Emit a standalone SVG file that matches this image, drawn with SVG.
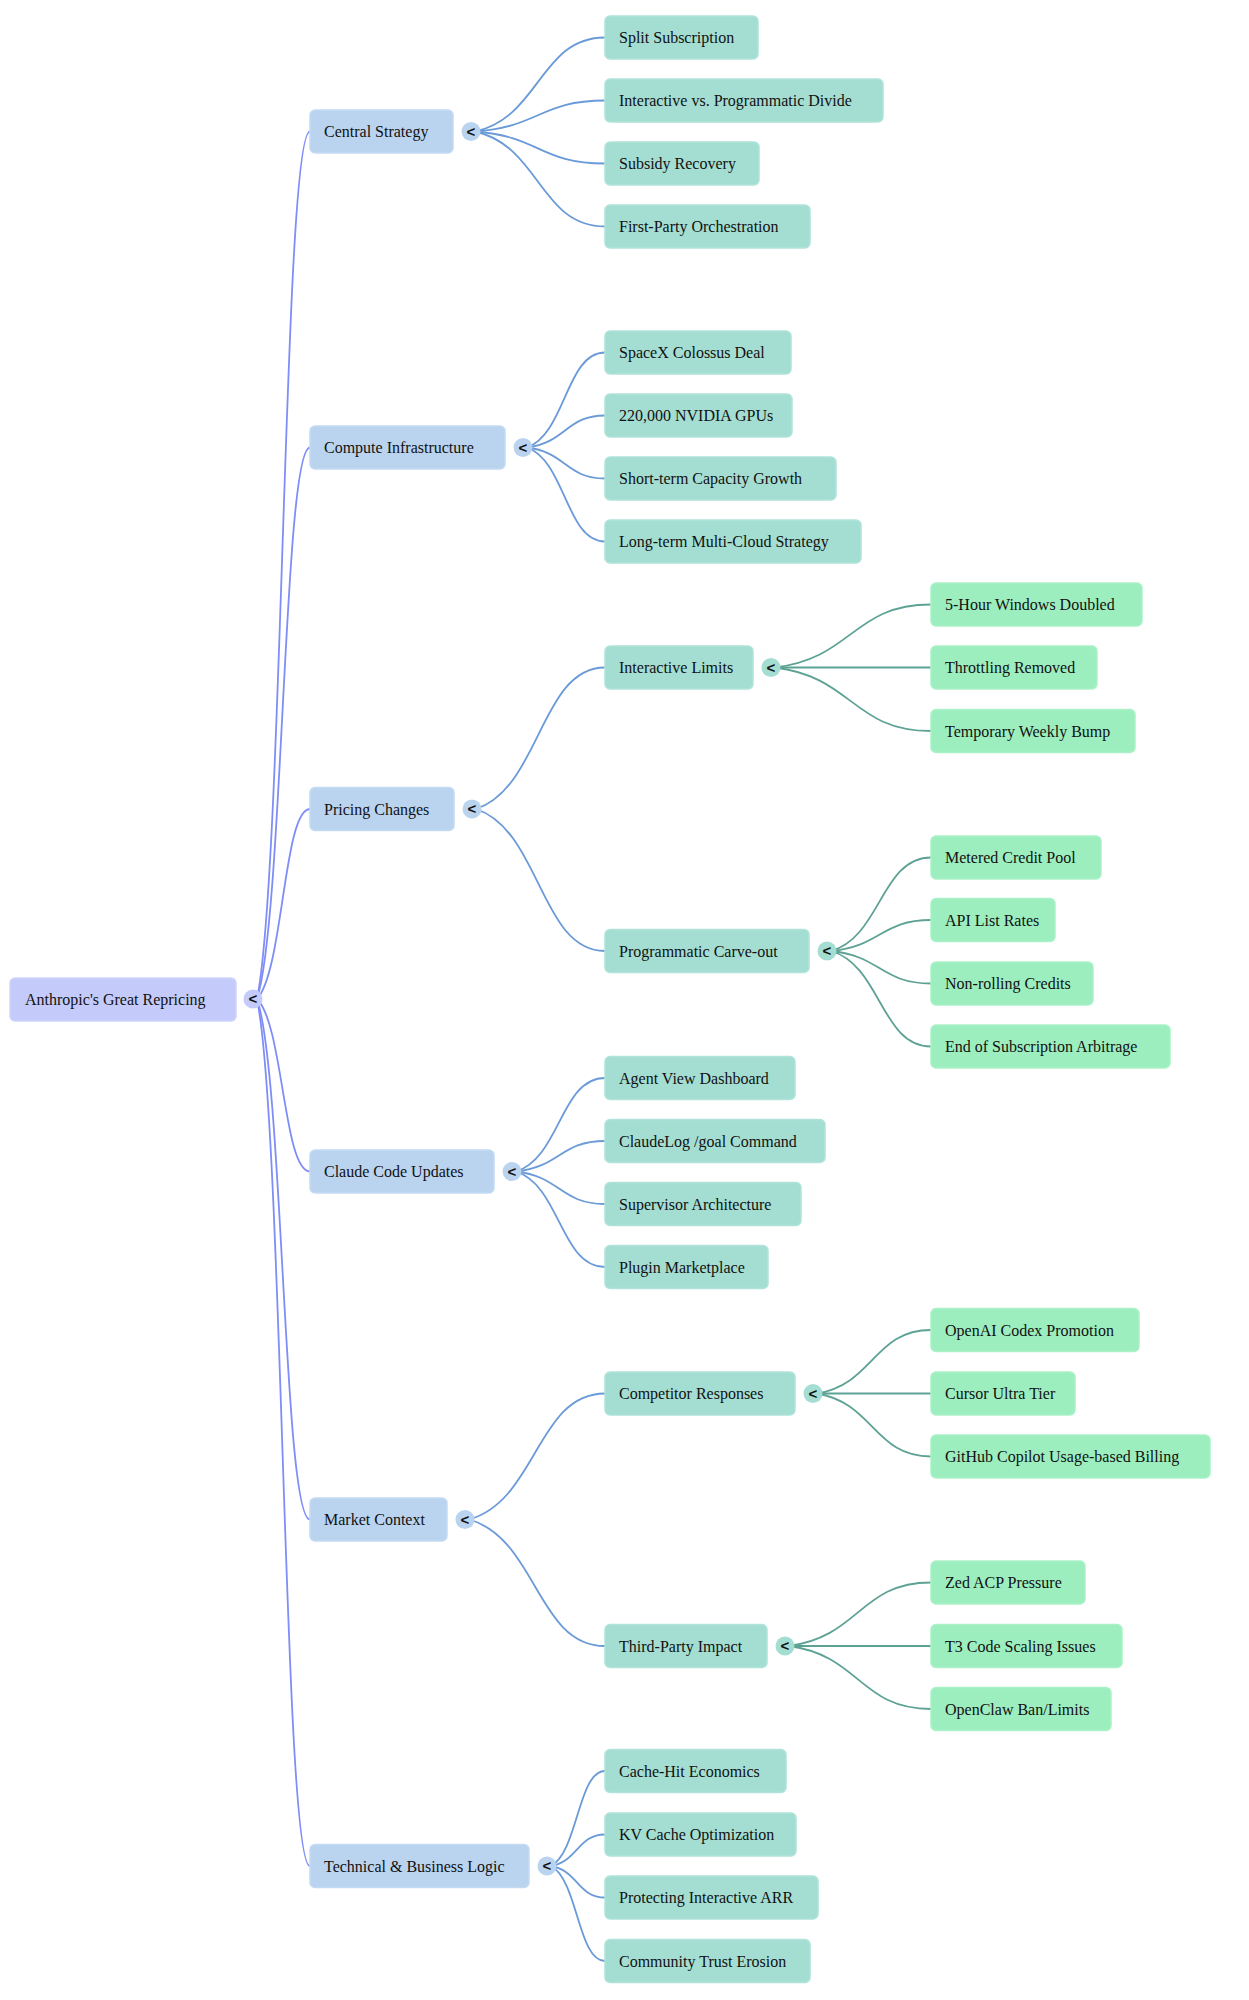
<svg xmlns="http://www.w3.org/2000/svg" width="1249" height="2000" viewBox="0 0 1249 2000">
<style>
text{font-family:"Liberation Serif","Times New Roman",serif;font-size:16px;fill:#111}
.n0{fill:#c4cbfb;stroke:#cdd3fc;stroke-width:1.5}
.n1{fill:#bad4f0;stroke:#c4daf3;stroke-width:1.5}
.n2{fill:#a4ded2;stroke:#b0e3d9;stroke-width:1.5}
.n3{fill:#9deebf;stroke:#aaf1c8;stroke-width:1.5}
.c0{fill:#c4cbfb}.c1{fill:#bad4f0}.c2{fill:#a4ded2}
.ind{font-family:"Liberation Sans",Arial,sans-serif;font-size:15px;font-weight:bold;text-anchor:middle}
.e0{fill:none;stroke:#7f8ef7;stroke-width:1.8}
.e1{fill:none;stroke:#6a9bd8;stroke-width:1.8}
.e2{fill:none;stroke:#5ea295;stroke-width:1.8}
</style>
<g id="connectors">
<path class="e0" d="M257,999 C283.5,868.9 283.5,131.5 310,131.5"/>
<path class="e0" d="M257,999 C283.5,916.3 283.5,447.5 310,447.5"/>
<path class="e0" d="M257,999 C283.5,970.5 283.5,809 310,809"/>
<path class="e0" d="M257,999 C283.5,1024.9 283.5,1171.5 310,1171.5"/>
<path class="e0" d="M257,999 C283.5,1077.1 283.5,1519.5 310,1519.5"/>
<path class="e0" d="M257,999 C283.5,1129.1 283.5,1866 310,1866"/>
<path class="e1" d="M475,131.5 C540,117.4 540,37.5 605,37.5"/>
<path class="e1" d="M475,131.5 C540,126.85 540,100.5 605,100.5"/>
<path class="e1" d="M475,131.5 C540,136.3 540,163.5 605,163.5"/>
<path class="e1" d="M475,131.5 C540,145.75 540,226.5 605,226.5"/>
<path class="e1" d="M527,447.5 C566,433.25 566,352.5 605,352.5"/>
<path class="e1" d="M527,447.5 C566,442.7 566,415.5 605,415.5"/>
<path class="e1" d="M527,447.5 C566,452.15 566,478.5 605,478.5"/>
<path class="e1" d="M527,447.5 C566,461.6 566,541.5 605,541.5"/>
<path class="e1" d="M476,809 C540.5,787.8 540.5,667.5 605,667.5"/>
<path class="e1" d="M476,809 C540.5,830.3 540.5,951 605,951"/>
<path class="e1" d="M516,1171.5 C560.5,1157.5 560.5,1078 605,1078"/>
<path class="e1" d="M516,1171.5 C560.5,1166.9 560.5,1141 605,1141"/>
<path class="e1" d="M516,1171.5 C560.5,1176.4 560.5,1204 605,1204"/>
<path class="e1" d="M516,1171.5 C560.5,1185.8 560.5,1267 605,1267"/>
<path class="e1" d="M469,1519.5 C537,1500.6 537,1393.5 605,1393.5"/>
<path class="e1" d="M469,1519.5 C537,1538.5 537,1646 605,1646"/>
<path class="e1" d="M551,1866 C578,1851.75 578,1771 605,1771"/>
<path class="e1" d="M551,1866 C578,1861.3 578,1834.5 605,1834.5"/>
<path class="e1" d="M551,1866 C578,1870.7 578,1897.5 605,1897.5"/>
<path class="e1" d="M551,1866 C578,1880.25 578,1961 605,1961"/>
<path class="e2" d="M775,667.5 C853,658.05 853,604.5 931,604.5"/>
<path class="e2" d="M775,667.5 L931,667.5"/>
<path class="e2" d="M775,667.5 C853,677 853,731 931,731"/>
<path class="e2" d="M831,951 C881,937 881,857.5 931,857.5"/>
<path class="e2" d="M831,951 C881,946.35 881,920 931,920"/>
<path class="e2" d="M831,951 C881,955.9 881,983.5 931,983.5"/>
<path class="e2" d="M831,951 C881,965.3 881,1046.5 931,1046.5"/>
<path class="e2" d="M817,1393.5 C874,1384 874,1330 931,1330"/>
<path class="e2" d="M817,1393.5 L931,1393.5"/>
<path class="e2" d="M817,1393.5 C874,1402.95 874,1456.5 931,1456.5"/>
<path class="e2" d="M789,1646 C860,1636.5 860,1582.5 931,1582.5"/>
<path class="e2" d="M789,1646 L931,1646"/>
<path class="e2" d="M789,1646 C860,1655.45 860,1709 931,1709"/>
</g>
<g id="root"><rect class="n0" x="10" y="978" width="226" height="43" rx="5"/><text x="25" y="1004.5">Anthropic's Great Repricing</text><circle class="c0" cx="253" cy="999" r="9.5"/><text class="ind" x="253" y="1004">&lt;</text></g>
<g id="central-strategy"><rect class="n1" x="310" y="110" width="143" height="43" rx="5"/><text x="324" y="137">Central Strategy</text><circle class="c1" cx="471" cy="131.5" r="9.5"/><text class="ind" x="471" y="136.5">&lt;</text></g>
<g id="compute-infrastructure"><rect class="n1" x="310" y="426" width="195" height="43" rx="5"/><text x="324" y="453">Compute Infrastructure</text><circle class="c1" cx="523" cy="447.5" r="9.5"/><text class="ind" x="523" y="452.5">&lt;</text></g>
<g id="pricing-changes"><rect class="n1" x="310" y="787.5" width="144" height="43" rx="5"/><text x="324" y="814.5">Pricing Changes</text><circle class="c1" cx="472" cy="809" r="9.5"/><text class="ind" x="472" y="814">&lt;</text></g>
<g id="claude-code-updates"><rect class="n1" x="310" y="1150" width="184" height="43" rx="5"/><text x="324" y="1177">Claude Code Updates</text><circle class="c1" cx="512" cy="1171.5" r="9.5"/><text class="ind" x="512" y="1176.5">&lt;</text></g>
<g id="market-context"><rect class="n1" x="310" y="1498" width="137" height="43" rx="5"/><text x="324" y="1525">Market Context</text><circle class="c1" cx="465" cy="1519.5" r="9.5"/><text class="ind" x="465" y="1524.5">&lt;</text></g>
<g id="technical-business-logic"><rect class="n1" x="310" y="1844.5" width="219" height="43" rx="5"/><text x="324" y="1871.5">Technical &amp; Business Logic</text><circle class="c1" cx="547" cy="1866" r="9.5"/><text class="ind" x="547" y="1871">&lt;</text></g>
<g id="split-subscription"><rect class="n2" x="605" y="16" width="153" height="43" rx="5"/><text x="619" y="43">Split Subscription</text></g>
<g id="interactive-vs-programmatic"><rect class="n2" x="605" y="79" width="278" height="43" rx="5"/><text x="619" y="106">Interactive vs. Programmatic Divide</text></g>
<g id="subsidy-recovery"><rect class="n2" x="605" y="142" width="154" height="43" rx="5"/><text x="619" y="169">Subsidy Recovery</text></g>
<g id="first-party-orchestration"><rect class="n2" x="605" y="205" width="205" height="43" rx="5"/><text x="619" y="232">First-Party Orchestration</text></g>
<g id="spacex-colossus"><rect class="n2" x="605" y="331" width="186" height="43" rx="5"/><text x="619" y="358">SpaceX Colossus Deal</text></g>
<g id="nvidia-gpus"><rect class="n2" x="605" y="394" width="187" height="43" rx="5"/><text x="619" y="421">220,000 NVIDIA GPUs</text></g>
<g id="short-term-capacity"><rect class="n2" x="605" y="457" width="231" height="43" rx="5"/><text x="619" y="484">Short-term Capacity Growth</text></g>
<g id="long-term-multicloud"><rect class="n2" x="605" y="520" width="256" height="43" rx="5"/><text x="619" y="547">Long-term Multi-Cloud Strategy</text></g>
<g id="interactive-limits"><rect class="n2" x="605" y="646" width="148" height="43" rx="5"/><text x="619" y="673">Interactive Limits</text><circle class="c2" cx="771" cy="667.5" r="9.5"/><text class="ind" x="771" y="672.5">&lt;</text></g>
<g id="programmatic-carveout"><rect class="n2" x="605" y="929.5" width="204" height="43" rx="5"/><text x="619" y="956.5">Programmatic Carve-out</text><circle class="c2" cx="827" cy="951" r="9.5"/><text class="ind" x="827" y="956">&lt;</text></g>
<g id="agent-view"><rect class="n2" x="605" y="1056.5" width="190" height="43" rx="5"/><text x="619" y="1083.5">Agent View Dashboard</text></g>
<g id="claudelog-goal"><rect class="n2" x="605" y="1119.5" width="220" height="43" rx="5"/><text x="619" y="1146.5">ClaudeLog /goal Command</text></g>
<g id="supervisor-architecture"><rect class="n2" x="605" y="1182.5" width="196" height="43" rx="5"/><text x="619" y="1209.5">Supervisor Architecture</text></g>
<g id="plugin-marketplace"><rect class="n2" x="605" y="1245.5" width="163" height="43" rx="5"/><text x="619" y="1272.5">Plugin Marketplace</text></g>
<g id="competitor-responses"><rect class="n2" x="605" y="1372" width="190" height="43" rx="5"/><text x="619" y="1399">Competitor Responses</text><circle class="c2" cx="813" cy="1393.5" r="9.5"/><text class="ind" x="813" y="1398.5">&lt;</text></g>
<g id="third-party-impact"><rect class="n2" x="605" y="1624.5" width="162" height="43" rx="5"/><text x="619" y="1651.5">Third-Party Impact</text><circle class="c2" cx="785" cy="1646" r="9.5"/><text class="ind" x="785" y="1651">&lt;</text></g>
<g id="cache-hit-economics"><rect class="n2" x="605" y="1749.5" width="181" height="43" rx="5"/><text x="619" y="1776.5">Cache-Hit Economics</text></g>
<g id="kv-cache"><rect class="n2" x="605" y="1813" width="191" height="43" rx="5"/><text x="619" y="1840">KV Cache Optimization</text></g>
<g id="protecting-arr"><rect class="n2" x="605" y="1876" width="213" height="43" rx="5"/><text x="619" y="1903">Protecting Interactive ARR</text></g>
<g id="community-trust"><rect class="n2" x="605" y="1939.5" width="205" height="43" rx="5"/><text x="619" y="1966.5">Community Trust Erosion</text></g>
<g id="five-hour-windows"><rect class="n3" x="931" y="583" width="211" height="43" rx="5"/><text x="945" y="610">5-Hour Windows Doubled</text></g>
<g id="throttling-removed"><rect class="n3" x="931" y="646" width="166" height="43" rx="5"/><text x="945" y="673">Throttling Removed</text></g>
<g id="temporary-weekly"><rect class="n3" x="931" y="709.5" width="204" height="43" rx="5"/><text x="945" y="736.5">Temporary Weekly Bump</text></g>
<g id="metered-credit"><rect class="n3" x="931" y="836" width="170" height="43" rx="5"/><text x="945" y="863">Metered Credit Pool</text></g>
<g id="api-list-rates"><rect class="n3" x="931" y="898.5" width="124" height="43" rx="5"/><text x="945" y="925.5">API List Rates</text></g>
<g id="non-rolling"><rect class="n3" x="931" y="962" width="162" height="43" rx="5"/><text x="945" y="989">Non-rolling Credits</text></g>
<g id="end-arbitrage"><rect class="n3" x="931" y="1025" width="239" height="43" rx="5"/><text x="945" y="1052">End of Subscription Arbitrage</text></g>
<g id="openai-codex"><rect class="n3" x="931" y="1308.5" width="208" height="43" rx="5"/><text x="945" y="1335.5">OpenAI Codex Promotion</text></g>
<g id="cursor-ultra"><rect class="n3" x="931" y="1372" width="144" height="43" rx="5"/><text x="945" y="1399">Cursor Ultra Tier</text></g>
<g id="github-copilot"><rect class="n3" x="931" y="1435" width="279" height="43" rx="5"/><text x="945" y="1462">GitHub Copilot Usage-based Billing</text></g>
<g id="zed-acp"><rect class="n3" x="931" y="1561" width="154" height="43" rx="5"/><text x="945" y="1588">Zed ACP Pressure</text></g>
<g id="t3-code"><rect class="n3" x="931" y="1624.5" width="191" height="43" rx="5"/><text x="945" y="1651.5">T3 Code Scaling Issues</text></g>
<g id="openclaw"><rect class="n3" x="931" y="1687.5" width="180" height="43" rx="5"/><text x="945" y="1714.5">OpenClaw Ban/Limits</text></g>
</svg>
